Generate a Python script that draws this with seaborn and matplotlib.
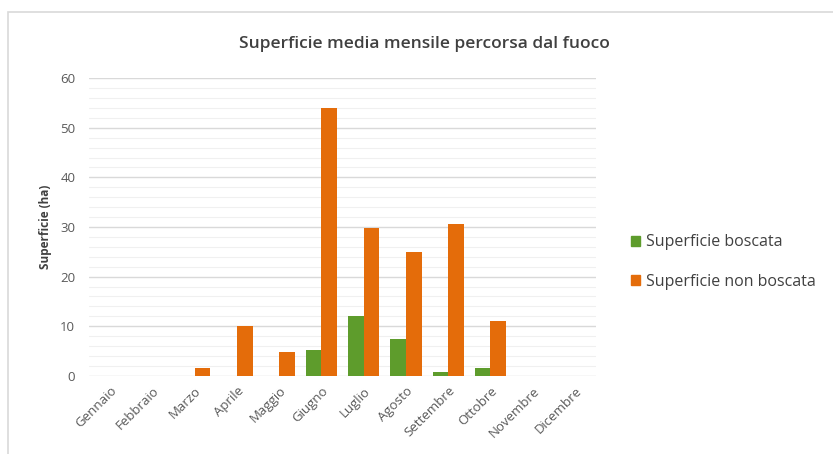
import pandas as pd
import seaborn as sns
import matplotlib.pyplot as plt
from matplotlib.patches import Rectangle, Patch
from matplotlib.ticker import MultipleLocator

mesi = ["Gennaio", "Febbraio", "Marzo", "Aprile", "Maggio", "Giugno",
        "Luglio", "Agosto", "Settembre", "Ottobre", "Novembre", "Dicembre"]
boscata = [0, 0, 0, 0, 0, 5.3, 12.1, 7.5, 0.7, 1.5, 0, 0]
non_boscata = [0, 0, 1.5, 10.1, 4.9, 54.0, 29.8, 25.0, 30.6, 11.0, 0, 0]
serie = ["Superficie boscata", "Superficie non boscata"]
colori = ["#5e9c2c", "#e46c0a"]

df = pd.DataFrame({
    "mese": mesi * 2,
    "valore": boscata + non_boscata,
    "serie": [serie[0]] * len(mesi) + [serie[1]] * len(mesi),
})

sns.set_style("white")
plt.rcParams["font.family"] = ["Open Sans", "DejaVu Sans"]

fig = plt.figure(figsize=(8.33, 4.54), dpi=100)
ax = fig.add_axes([0.107, 0.172, 0.6085, 0.656])

sns.barplot(data=df, x="mese", y="valore", hue="serie", palette=colori,
            width=0.74, saturation=1, linewidth=0, ax=ax, legend=False)

ax.set_ylim(0, 60)
ax.yaxis.set_major_locator(MultipleLocator(10))
ax.yaxis.set_minor_locator(MultipleLocator(2))
ax.grid(axis="y", which="major", color="#d9d9d9", linewidth=1.0)
ax.grid(axis="y", which="minor", color="#f0f0f0", linewidth=0.8)
ax.set_axisbelow(True)
for s in ax.spines.values():
    s.set_visible(False)
ax.tick_params(axis="both", which="both", length=0, colors="#595959", labelsize=9.5)
ax.tick_params(axis="y", pad=10)
ax.tick_params(axis="x", pad=6)
plt.setp(ax.get_xticklabels(), rotation=45, ha="right", rotation_mode="anchor")

ax.set_xlabel("")
ax.set_ylabel("Superficie (ha)", fontsize=8.5, fontweight="bold", color="#404040", labelpad=6)
fig.suptitle("Superficie media mensile percorsa dal fuoco", x=0.51, y=0.903, va="center",
             fontsize=12.5, fontweight="semibold", color="#404040")

handles = [Patch(color=c, label=l) for c, l in zip(colori, serie)]
fig.legend(handles=handles, loc="center left", bbox_to_anchor=(0.74, 0.423),
           frameon=False, fontsize=11.5, handlelength=0.6, handleheight=0.6,
           handletextpad=0.35, labelspacing=1.45, labelcolor="#404040")

fig.patches.append(Rectangle((8 / 833, -0.1), 1.2, 1.1 - 12 / 454, transform=fig.transFigure,
                             fill=False, edgecolor="#d9d9d9", linewidth=1.2))

fig.savefig("out.png", dpi=100)
